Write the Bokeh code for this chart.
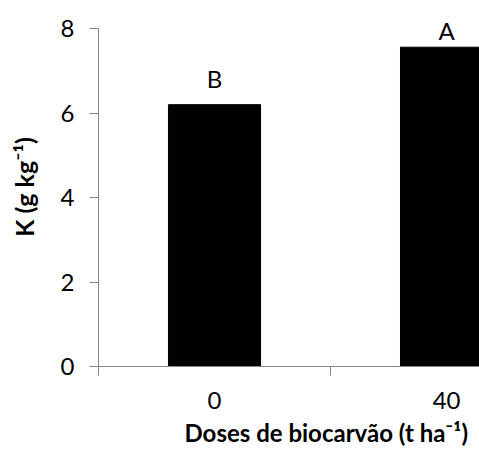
from bokeh.plotting import figure
from bokeh.models import FixedTicker, Range1d, Title, ColumnDataSource
from bokeh.core.properties import value
from bokeh.embed import file_html
from bokeh.resources import INLINE

# Data
doses = ["0", "40"]
k_values = [6.2, 7.56]
letters = ["B", "A"]
y_ticks = [0, 2, 4, 6, 8]

xpos = [i + 0.5 for i in range(len(doses))]

FONT = "Lato"
AX_COLOR = "#868686"

p = figure(width=479, height=451, output_backend="svg", toolbar_location=None,
           x_range=Range1d(0, 1.642), y_range=Range1d(0, 8.5),
           min_border_left=98, min_border_right=0, min_border_top=7, min_border_bottom=85)
p.outline_line_color = None
p.grid.grid_line_color = None
p.background_fill_color = "white"
p.border_fill_color = "white"

src = ColumnDataSource(dict(x=xpos, top=k_values, lab=letters))
p.vbar(x="x", top="top", bottom=0, width=0.397, source=src, fill_color="black", line_color="black")

# significance letters
p.text(x=[xpos[0]], y=[k_values[0]], text=[letters[0]], text_align="center", text_baseline="alphabetic",
       y_offset=-26, text_font=value(FONT), text_font_size="24px", text_color="black")
p.text(x=[xpos[1]], y=[k_values[1]], text=[letters[1]], text_align="center", text_baseline="alphabetic",
       y_offset=-17, text_font=value(FONT), text_font_size="24px", text_color="black")

# x axis
xa = p.xaxis[0]
xa.ticker = FixedTicker(ticks=xpos, minor_ticks=[0, 1, 2])
xa.major_label_overrides = {xpos[i]: doses[i] for i in range(len(doses))}
xa.major_tick_line_color = None
xa.major_tick_out = 0
xa.major_tick_in = 0
xa.minor_tick_out = 9
xa.minor_tick_in = 0
xa.minor_tick_line_color = AX_COLOR
xa.axis_line_color = AX_COLOR
xa.major_label_standoff = 16
xa.major_label_text_font = FONT
xa.major_label_text_font_size = "24px"
xa.major_label_text_color = "black"

# y axis
ya = p.yaxis[0]
ya.ticker = FixedTicker(ticks=y_ticks, minor_ticks=[])
ya.bounds = (0, 8)
ya.major_tick_out = 9
ya.major_tick_in = 0
ya.major_tick_line_color = AX_COLOR
ya.axis_line_color = AX_COLOR
ya.minor_tick_line_color = None
ya.major_label_standoff = 15
ya.major_label_text_font = FONT
ya.major_label_text_font_size = "24px"
ya.major_label_text_color = "black"
ya.axis_label = "K (g kg⁻¹)"
ya.axis_label_text_font = FONT
ya.axis_label_text_font_style = "bold"
ya.axis_label_text_font_size = "25px"
ya.axis_label_text_color = "black"
ya.axis_label_standoff = 19

t = Title(text="Doses de biocarvão (t ha⁻¹)", align="left", offset=86,
          text_font=FONT, text_font_style="bold", text_font_size="24px", text_color="black", standoff=9)
p.add_layout(t, "below")

open("out.html", "w").write(file_html(p, INLINE))
